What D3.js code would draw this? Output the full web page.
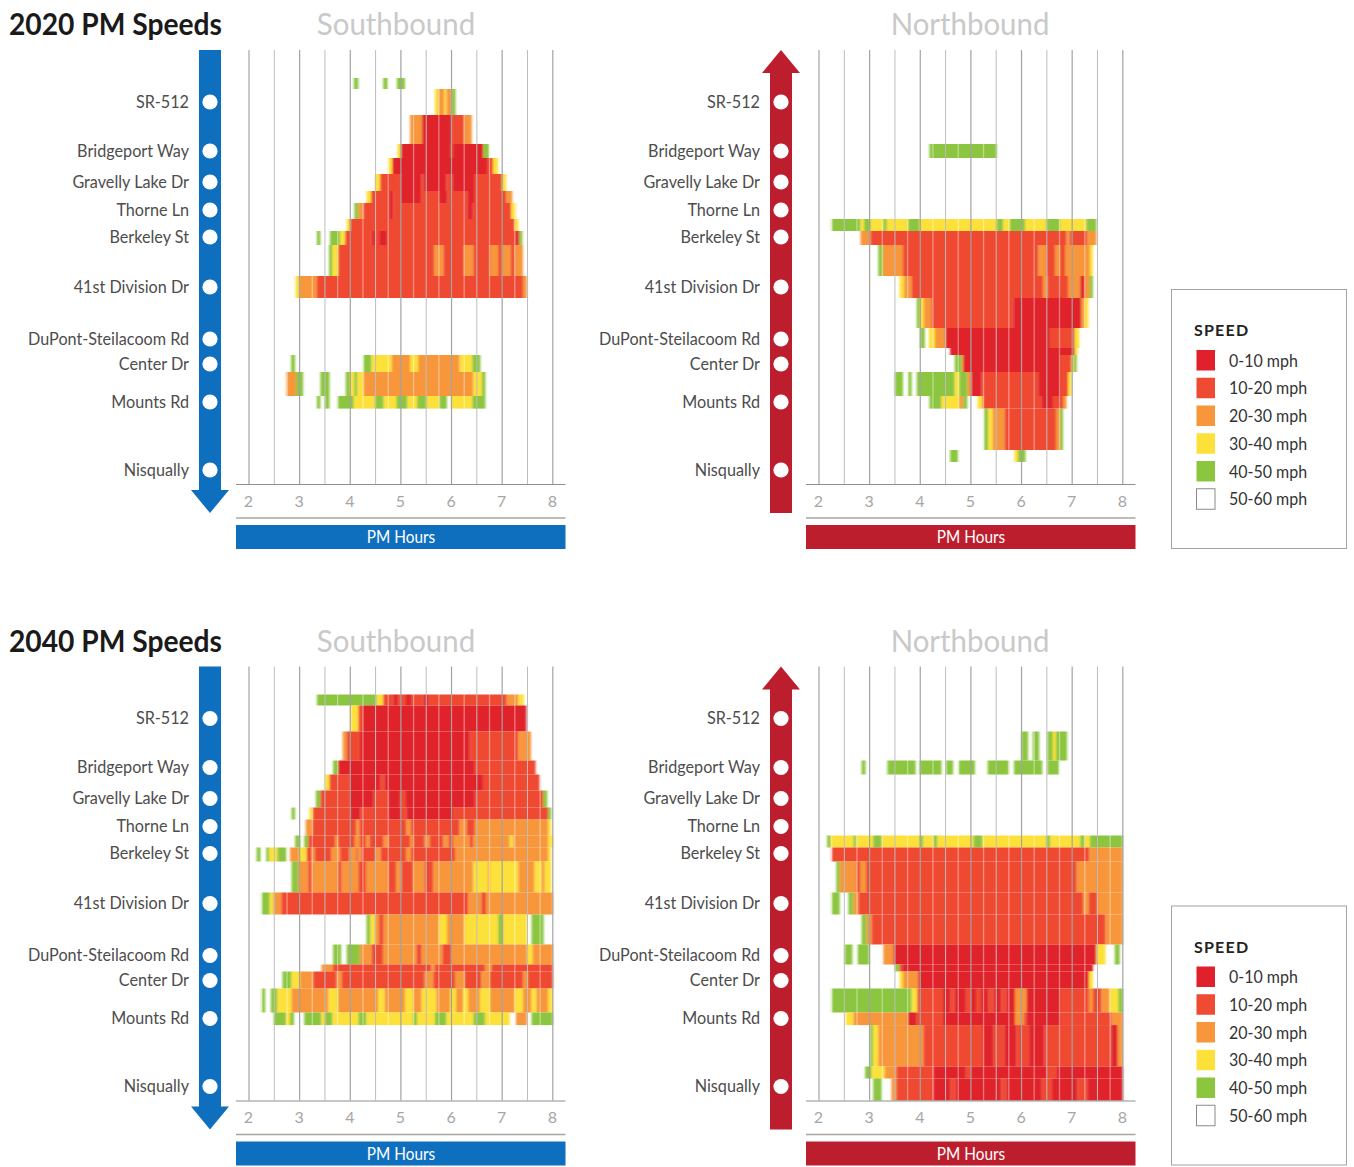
<!DOCTYPE html>
<html><head><meta charset="utf-8">
<script src="https://cdn.jsdelivr.net/npm/d3@7"></script>
<style>
html,body{margin:0;padding:0;background:#fff}
svg{display:block}
text{font-family:Lato,"Open Sans",sans-serif}
</style></head><body>
<script>
const speedLabels=["0-10 mph","10-20 mph","20-30 mph","30-40 mph","40-50 mph","50-60 mph"];
const speedColors=["#e0202a","#ef4a32","#f7963a","#fde13a","#8cc63f","#ffffff"];
const stationNames=["SR-512","Bridgeport Way","Gravelly Lake Dr","Thorne Ln","Berkeley St","41st Division Dr","DuPont-Steilacoom Rd","Center Dr","Mounts Rd","Nisqually"];
const stationMiles=[2.6,5.05,6.6,8.0,9.35,11.85,14.45,15.7,17.6,21.0];
const segmentEdges=[1.4,1.95,3.25,4.7,5.4,6.2,7.05,7.65,8.45,9.05,9.75,11.3,12.4,13.9,14.9,15.25,16.1,17.3,17.93,20.0,20.6,21.7];
const hourTicks=[2,3,4,5,6,7,8];
const halfTicks=[2.5,3.5,4.5,5.5,6.5,7.5];
const quarterTicks=[2.25,2.75,3.25,3.75,4.25,4.75,5.25,5.75,6.25,6.75,7.25,7.75];
// each row: [segment, hour, class, hour, class, ..., lastHour]
const sb2020=[
[0,4.07,4,4.16],[0,4.65,4,4.74],[0,4.92,4,5.08],
[1,5.67,3,5.74,2,5.86,3,5.9,2,6.0,4,6.08],
[2,5.18,2,5.42,0,6.0,1,6.25,2,6.4],
[3,4.93,3,5.0,0,5.97,1,6.03,0,6.63,4,6.74],
[4,4.75,3,4.83,0,6.7,1,6.82,3,6.92],
[5,4.49,3,4.59,1,5.0,0,5.4,1,5.45,0,5.9,1,6.02,0,6.46,1,7.0,3,7.08],
[6,4.32,3,4.41,1,4.77,0,4.85,1,5.0,0,5.4,1,5.75,0,5.92,1,6.32,0,6.46,1,7.08,2,7.2],
[7,4.08,4,4.16,2,4.26,1,4.77,0,4.85,1,6.32,0,6.42,1,7.18,3,7.27],
[8,3.93,3,4.0,1,7.25,3,7.32],
[9,3.34,4,3.41],[9,3.6,4,3.8,3,3.9,1,4.42,0,4.49,1,4.57,0,4.73,1,7.27,0,7.34,4,7.4],
[10,3.58,4,3.65,3,3.76,1,5.66,2,5.84,1,6.25,2,6.43,1,6.76,2,6.92,1,7.0,2,7.17,1,7.25,2,7.41],
[11,2.92,3,2.99,2,3.34,1,7.41,2,7.49],
[15,2.83,4,2.91],[15,4.26,4,4.42,3,4.82,2,5.18,3,5.34,2,6.16,3,6.41,4,6.57],
[16,2.74,2,2.93,4,3.07],[16,3.41,4,3.59],[16,3.91,4,4.0,3,4.08,4,4.14,3,4.26,2,6.43,3,6.6,4,6.67],
[17,3.34,4,3.41],[17,3.5,4,3.59],[17,3.75,4,4.07,3,4.49,4,4.66,3,4.91,4,5.13,3,5.32,4,5.51,3,5.76,4,5.91],[17,5.99,3,6.41,4,6.67]
];
const nb2020=[
[3,4.18,4,5.51],
[8,2.25,4,2.82,3,2.89,4,3.02,3,3.27,4,3.34,3,3.76,4,3.99,3,5.51,4,5.64,3,5.77,4,6.07,3,6.49,4,6.76,3,7.28,4,7.48],
[9,2.82,2,3.02,1,6.89,2,6.95,1,7.3,2,7.48],
[10,3.17,4,3.26,2,3.66,1,6.33,2,6.49,1,6.66,2,6.76,1,6.86,2,7.35,3,7.41],
[11,3.59,3,3.68,2,3.83,1,6.43,2,6.51,1,6.92,2,7.16,0,7.25,2,7.35,4,7.41],
[12,3.93,4,4.0,3,4.07,2,4.22,1,5.84,0,7.18,2,7.25,3,7.32],
[13,4.0,4,4.09],[13,4.17,3,4.29,2,4.5,0,6.56,1,7.05,3,7.14],
[14,4.59,0,7.05,3,7.11],
[15,4.68,4,4.82,2,4.85,0,6.76,1,6.99,3,7.03,4,7.09],
[16,3.5,4,3.66],[16,3.76,4,3.83],[16,3.93,4,4.68,3,4.77,4,4.93,2,5.01,0,5.21,1,6.33,0,6.76,1,6.92,3,6.99],
[17,4.18,4,4.42,3,4.77,2,4.85,4,4.93],[17,5.13,3,5.23,1,6.39,0,6.62,1,6.82,2,6.89],
[18,5.26,4,5.34,3,5.43,2,5.67,1,6.68,2,6.76,4,6.82],
[19,4.59,4,4.75],[19,5.86,3,5.93,4,6.08]
];
const sb2040=[
[0,3.34,4,4.52,3,4.65,1,4.85,0,4.95,1,5.1,0,5.2,1,5.45,0,5.55,1,7.09,2,7.32,3,7.43],
[1,4.01,3,4.16,1,4.25,0,7.48],
[2,3.85,2,3.93,1,4.19,0,6.36,1,7.32,2,7.57],
[3,3.66,4,3.76,0,6.46,1,7.66],
[4,3.5,3,3.59,1,3.99,0,4.6,1,4.68,0,6.62,1,7.74],
[5,3.32,4,3.41,1,3.99,0,4.45,1,4.75,0,4.98,1,5.1,0,6.46,1,7.81,4,7.89],
[6,2.84,4,2.91],[6,3.19,3,3.26,1,4.0,0,4.2,1,4.75,0,5.0,1,5.11,0,6.03,1,7.91,4,7.97],
[7,3.12,2,3.26,1,4.12,2,4.18,1,5.11,2,5.2,1,6.16,2,6.3,1,6.46,2,7.91,3,7.97],
[8,2.91,4,3.01],[8,3.09,4,3.17,1,3.7,2,3.76,1,4.09,2,4.19,1,4.31,2,4.38,1,4.66,2,4.75,1,5.18,2,5.24,1,5.47,2,5.57,1,5.84,2,5.94,1,6.03,2,6.36,1,6.43,2,7.15,3,7.22,2,7.91,3,8.0],
[9,2.15,4,2.23],[9,2.34,4,2.4,3,2.56,4,2.74],[9,2.81,2,2.99,3,3.14,1,3.24,2,3.3,1,3.63,2,3.8,1,3.98,2,4.12,1,4.16,2,4.22,1,4.5,2,4.6,1,5.1,2,5.2,1,6.07,2,7.91,3,7.97],
[10,2.84,4,2.97,2,3.17,1,3.24,2,3.76,1,3.83,2,4.16,1,4.31,2,4.75,1,4.91,2,5.01,1,5.24,2,5.47,1,5.64,2,6.43,3,6.72,2,6.76,3,7.32,2,7.64,3,7.78,2,7.84,3,7.97],
[11,2.25,4,2.41,3,2.48,2,2.64,1,6.33,2,6.59,1,6.68,2,8.0],
[12,4.32,4,4.4,3,4.49,2,4.57,1,4.66,2,5.76,3,5.91,2,6.26,3,6.92,4,7.02,3,7.49],[12,7.58,4,7.82],
[13,3.66,4,3.82],[13,3.93,4,4.19,2,4.42,1,4.65,2,5.31,1,5.41,2,5.82,1,6.0,2,7.49,3,7.6,2,8.0],
[14,3.43,2,3.66,1,5.6,2,5.67,1,6.66,2,6.79,1,8.0],
[15,2.66,4,2.84,3,3.01,2,3.27,1,3.73,2,3.83,1,5.47,2,5.64,1,6.07,2,6.26,1,6.59,2,6.76,1,7.41,2,7.51,1,8.0],
[16,2.25,4,2.32],[16,2.43,4,2.56,3,2.84,2,3.57,3,3.76,2,4.55,3,4.68,2,5.08,3,5.24,2,5.41,3,5.7,2,5.97,3,6.09,2,6.23,3,6.33,2,6.56,3,6.76,2,7.25,3,7.41,2,7.58,3,7.68,2,7.91,3,8.0],
[17,2.49,4,2.73,3,2.81,4,2.89],[17,3.09,4,3.43,3,3.5,4,3.65,3,4.16,4,4.32,3,5.24,4,5.32,3,5.67,4,5.9,3,6.43,4,6.66,3,7.15],[17,7.27,2,7.49],[17,7.58,4,8.0]
];
const nb2040=[
[2,6.0,4,6.13],[2,6.22,4,6.35],[2,6.51,4,6.62,3,6.68,4,6.9],
[3,2.84,4,2.92],[3,3.35,4,3.91],[3,3.99,4,4.42],[3,4.51,4,4.65],[3,4.76,4,5.08],[3,5.33,4,5.75],[3,5.85,4,6.41],[3,6.51,4,6.74],
[8,2.16,4,2.23,3,2.68,4,2.74,3,3.07,4,3.24,3,3.99,4,4.06,3,4.26,4,4.34,3,5.05,4,5.23,3,6.49,4,6.57,3,7.16,4,7.25,3,7.35,4,8.0],
[9,2.25,1,7.34,2,8.0],
[10,2.34,4,2.41,2,2.74,1,2.81,2,2.93,1,7.09,2,8.0],
[11,2.25,4,2.41],[11,2.58,4,2.68,2,2.78,1,7.22,2,7.33,1,7.49,2,8.0],
[12,2.84,4,2.94,2,3.04,1,7.66,2,8.0],
[13,2.51,4,2.66],[13,2.76,4,2.99],[13,3.27,2,3.47,0,7.48,3,7.66],[13,7.84,4,7.94],
[14,3.5,4,3.59,1,3.66,0,7.41],
[15,3.59,3,3.66,2,3.96,0,7.33,3,7.41],
[16,2.25,4,3.83,3,3.94,1,4.45,0,4.6,1,4.68,0,4.9,1,5.0,0,5.1,1,5.2,0,5.35,1,5.45,0,5.6,1,5.7,0,5.87,2,6.1,0,6.76,1,7.33,2,7.41,1,7.58,2,7.74,3,7.91,4,8.0],
[17,2.53,3,2.68,2,3.76,0,3.93,1,4.45,0,5.87,2,6.05,1,6.1,0,6.76,1,7.78,2,8.0],
[18,3.01,4,3.07,3,3.17,2,4.06,1,5.24,0,5.44,1,5.66,0,5.9,1,6.15,0,6.45,1,7.78,0,7.9,2,8.0],
[19,2.91,4,3.04,3,3.3,2,3.53,1,4.26,0,4.9,1,5.0,0,6.5,1,6.7,0,8.0],
[20,3.07,4,3.24],[20,3.43,2,3.53,1,4.26,0,4.6,1,4.7,0,5.6,1,5.7,0,6.4,1,6.6,0,7.1,1,7.3,0,8.0]
];
const panels=[
 {title:"2020 PM Speeds",top:0,sb:sb2020,nb:nb2020},
 {title:"2040 PM Speeds",top:616.5,sb:sb2040,nb:nb2040}
];
const runsOf=rows=>rows.flatMap(r=>{const o=[];for(let i=1;i+2<r.length;i+=2)o.push({seg:r[0],h0:r[i],c:r[i+1],h1:r[i+2]});return o;});

const blue="#0f6fbf",red="#bd1e2e";
const svg=d3.select("body").append("svg").attr("width",1354).attr("height",1167);
svg.append("defs").append("filter").attr("id","soft").attr("x","-2%").attr("y","-2%").attr("width","104%").attr("height","104%")
   .append("feGaussianBlur").attr("stdDeviation","1 0.6");
const y=d3.scaleLinear().domain([0,21.7]).range([50,484]);
const textGrey="#4d4d4d";
function squeeze(sel,f){
  sel.each(function(){const n=this.getComputedTextLength();
    d3.select(this).attr("textLength",n*f).attr("lengthAdjust","spacingAndGlyphs");});
  return sel;
}

function direction(g,rows,o){
  const x=d3.scaleLinear().domain([2,8]).range([o.x2,o.x2+303.8]);
  squeeze(g.append("text").attr("x",o.tx).attr("y",35).attr("text-anchor","middle").attr("fill","#c9c9c9").attr("font-size",30).text(o.name),.98);
  const heat=g.append("g").attr("filter","url(#soft)");
  heat.selectAll("rect").data(runsOf(rows)).join("rect")
    .attr("x",d=>x(d.h0)).attr("width",d=>x(d.h1)-x(d.h0))
    .attr("y",d=>y(segmentEdges[d.seg])).attr("height",d=>y(segmentEdges[d.seg+1])-y(segmentEdges[d.seg]))
    .attr("fill",d=>speedColors[d.c]);
  g.append("g").selectAll("line").data(quarterTicks).join("line")
    .attr("x1",x).attr("x2",x).attr("y1",50).attr("y2",484).attr("stroke","#fff").attr("stroke-opacity",.4).attr("stroke-width",1.3);
  g.append("g").selectAll("line").data(halfTicks).join("line")
    .attr("x1",x).attr("x2",x).attr("y1",50).attr("y2",484).attr("stroke","#bdbdbd").attr("stroke-width",1);
  g.append("g").selectAll("line").data(hourTicks).join("line")
    .attr("x1",x).attr("x2",x).attr("y1",50).attr("y2",484).attr("stroke","#a3a3a3").attr("stroke-width",1.2);
  const ax=g.append("g").attr("transform","translate(-1,484.5)")
    .call(d3.axisBottom(x).tickValues(hourTicks).tickSize(0).tickPadding(11).tickFormat(d3.format("d")));
  ax.select(".domain").remove();
  ax.selectAll("text").attr("fill","#a6a6a6").attr("font-size",16).attr("font-family","Lato,sans-serif");
  g.append("line").attr("x1",o.x2-13).attr("x2",o.x2+316.5).attr("y1",484.5).attr("y2",484.5).attr("stroke","#8f8f8f").attr("stroke-width",1.2);
  g.append("line").attr("x1",o.x2-13).attr("x2",o.x2+316.5).attr("y1",518).attr("y2",518).attr("stroke","#aaa49e").attr("stroke-width",1.5);
  g.append("rect").attr("x",o.x2-13).attr("y",525).attr("width",329.5).attr("height",24).attr("fill",o.color);
  squeeze(g.append("text").attr("x",o.x2+152).attr("y",543).attr("text-anchor","middle").attr("fill","#fff").attr("font-size",16.5).text("PM Hours"),.93);
  const a=o.ax;
  if(o.down){
    g.append("path").attr("d",`M${a-11},50H${a+11}V490H${a+19}L${a},513L${a-19},490H${a-11}Z`).attr("fill",o.color);
  }else{
    g.append("path").attr("d",`M${a-11},513H${a+11}V73H${a+19}L${a},50L${a-19},73H${a-11}Z`).attr("fill",o.color);
  }
  g.append("g").selectAll("circle").data(stationMiles).join("circle")
    .attr("cx",a).attr("cy",y).attr("r",7.6).attr("fill","#fff");
  squeeze(g.append("g").selectAll("text").data(stationNames).join("text")
    .attr("x",a-21).attr("y",(d,i)=>y(stationMiles[i])+5.5).attr("text-anchor","end")
    .attr("fill",textGrey).attr("font-size",17.5).text(d=>d),.925);
}

panels.forEach(p=>{
  const g=svg.append("g").attr("transform",`translate(0,${p.top})`);
  squeeze(g.append("text").attr("x",9).attr("y",35).attr("font-weight",700).attr("font-size",30).attr("fill","#1a1a1a").text(p.title),.94);
  direction(g,p.sb,{name:"Southbound",tx:396,x2:249,ax:210,down:true,color:blue});
  direction(g,p.nb,{name:"Northbound",tx:970,x2:819,ax:781,down:false,color:red});
  const l=g.append("g");
  l.append("rect").attr("x",1171.5).attr("y",289.5).attr("width",175).attr("height",259).attr("fill","#fff").attr("stroke","#a3a3a3");
  l.append("text").attr("x",1194).attr("y",336).attr("font-weight",700).attr("font-size",16).attr("letter-spacing",1.2).attr("fill","#222").text("SPEED");
  const ly=d3.scaleBand().domain(speedLabels).range([347,513.5]);
  l.selectAll("rect.sw").data(speedLabels).join("rect").attr("class","sw")
    .attr("x",1196.5).attr("y",d=>ly(d)+3).attr("width",18.5).attr("height",20.5)
    .attr("fill",(d,i)=>speedColors[i]).attr("stroke",(d,i)=>i==5?"#8a8a8a":"none");
  squeeze(l.selectAll("text.lb").data(speedLabels).join("text").attr("class","lb")
    .attr("x",1229).attr("y",d=>ly(d)+19.5).attr("fill","#333").attr("font-size",17).text(d=>d),.94);
});
</script></body></html>
